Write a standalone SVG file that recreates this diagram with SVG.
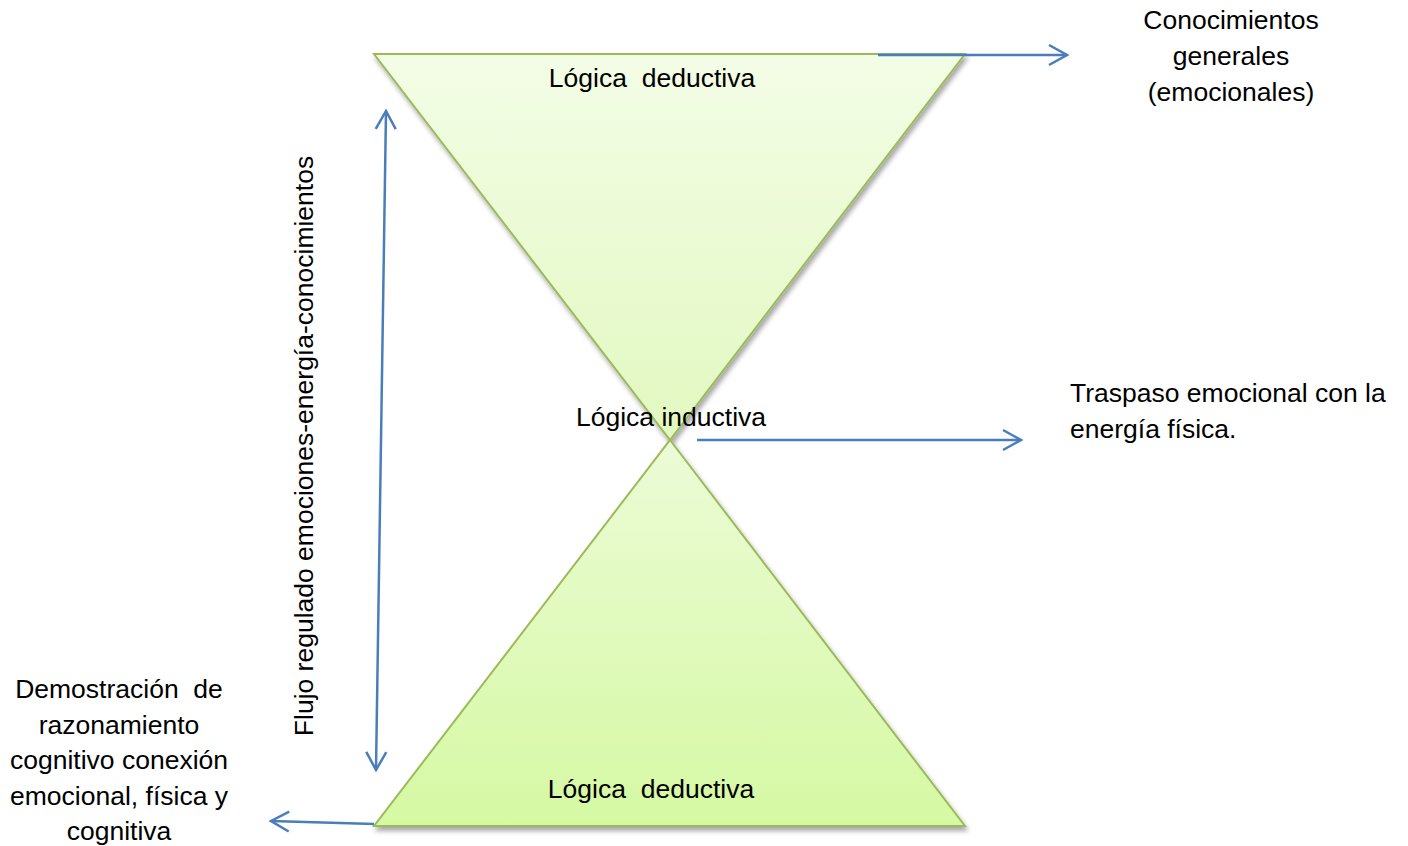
<svg xmlns="http://www.w3.org/2000/svg" width="1408" height="846" viewBox="0 0 1408 846">
<style>
text{font-family:"Liberation Sans",Arial,sans-serif;font-size:26.5px;fill:#000;white-space:pre}
.tri{stroke:#9bbb59;stroke-width:2;stroke-linejoin:miter}
.conn{stroke:#4a7ebb;stroke-width:2.5;fill:none;marker-end:url(#ah)}
</style>
<defs>
<linearGradient id="gTop" x1="0" y1="0" x2="0" y2="1">
<stop offset="0" stop-color="#f3fde6"/>
<stop offset="1" stop-color="#e2f8c0"/>
</linearGradient>
<linearGradient id="gBot" x1="0" y1="0" x2="0" y2="1">
<stop offset="0" stop-color="#ecfbd6"/>
<stop offset="1" stop-color="#d5f9a3"/>
</linearGradient>
<filter id="sh" x="-10%" y="-10%" width="120%" height="120%">
<feGaussianBlur in="SourceAlpha" stdDeviation="2.5"/>
<feOffset dx="2" dy="4" result="b"/>
<feComponentTransfer><feFuncA type="linear" slope="0.35"/></feComponentTransfer>
<feMerge><feMergeNode/><feMergeNode in="SourceGraphic"/></feMerge>
</filter>
<marker id="ah" viewBox="-22 -13 26 26" refX="0" refY="0" markerWidth="26" markerHeight="26" markerUnits="userSpaceOnUse" orient="auto" overflow="visible">
<path d="M-18,-10 L0,0 L-18,10" fill="none" stroke="#4a7ebb" stroke-width="2.5"/>
</marker>
<marker id="ahs" viewBox="-22 -13 26 26" refX="0" refY="0" markerWidth="26" markerHeight="26" markerUnits="userSpaceOnUse" orient="auto-start-reverse" overflow="visible">
<path d="M-18,-10 L0,0 L-18,10" fill="none" stroke="#4a7ebb" stroke-width="2.5"/>
</marker>
</defs>
<g id="top-triangle">
<polygon class="tri" points="374,54 965,54 670,440" fill="url(#gTop)" filter="url(#sh)"/>
<text x="652" y="87" text-anchor="middle" xml:space="preserve">Lógica  deductiva</text>
</g>
<g id="bottom-triangle">
<polygon class="tri" points="670,440 965,826 374,826" fill="url(#gBot)" filter="url(#sh)"/>
<text x="651" y="798" text-anchor="middle" xml:space="preserve">Lógica  deductiva</text>
</g>
<g id="center-label">
<text x="671" y="426" text-anchor="middle">Lógica inductiva</text>
</g>
<g id="connectors">
<line class="conn" x1="878" y1="55" x2="1067" y2="55"/>
<line class="conn" x1="697" y1="440" x2="1021" y2="440"/>
<line class="conn" x1="374" y1="824" x2="271" y2="821"/>
<line class="conn" x1="376" y1="770" x2="386" y2="111" marker-start="url(#ahs)"/>
</g>
<g id="general-knowledge">
<text x="1231" y="29" text-anchor="middle">Conocimientos</text>
<text x="1231" y="65" text-anchor="middle">generales</text>
<text x="1231" y="101" text-anchor="middle">(emocionales)</text>
</g>
<g id="transfer">
<text x="1070" y="402">Traspaso emocional con la</text>
<text x="1070" y="438">energía física.</text>
</g>
<g id="demonstration">
<text x="119" y="698" text-anchor="middle" xml:space="preserve">Demostración  de</text>
<text x="119" y="734" text-anchor="middle">razonamiento</text>
<text x="119" y="769" text-anchor="middle">cognitivo conexión</text>
<text x="119" y="805" text-anchor="middle">emocional, física y</text>
<text x="119" y="840" text-anchor="middle">cognitiva</text>
</g>
<g id="flow-label">
<text transform="translate(313,446) rotate(-90)" text-anchor="middle">Flujo regulado emociones-energía-conocimientos</text>
</g>
</svg>
